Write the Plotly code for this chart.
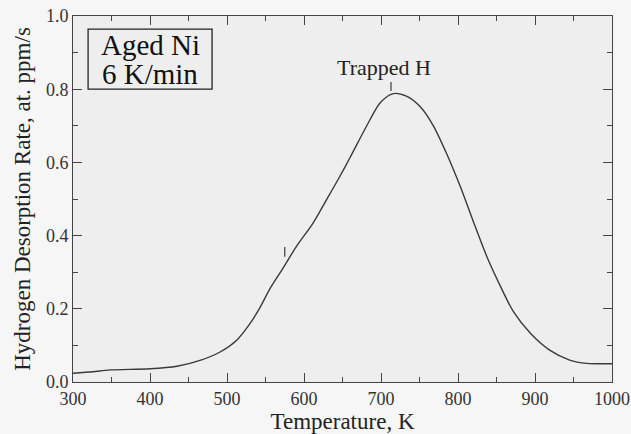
import plotly.graph_objects as go

temperature = [300, 326, 348, 400, 435, 465, 491, 513, 530, 543, 556, 573, 590, 612, 629, 645, 660,
               681, 699, 716, 733, 751, 768, 785, 803, 820, 837, 855, 872, 894, 919, 945, 967, 1000]
rate = [0.024, 0.028, 0.033, 0.036, 0.043, 0.059, 0.082, 0.115, 0.160, 0.204, 0.256, 0.312, 0.370, 0.435, 0.497, 0.556, 0.614,
        0.698, 0.763, 0.788, 0.781, 0.752, 0.700, 0.625, 0.534, 0.438, 0.345, 0.262, 0.192, 0.133, 0.087, 0.060, 0.051, 0.050]

peak_T = [575, 713]
peak_y0 = [0.342, 0.795]
peak_y1 = [0.369, 0.820]
peak_label = "Trapped H"
box_lines = ["Aged Ni", "6 K/min"]

fig = go.Figure()
fig.add_trace(go.Scatter(x=temperature, y=rate, mode="lines",
                         line=dict(color="#3a3a3a", width=1.4, shape="spline", smoothing=0.8),
                         showlegend=False))
for t, a, b in zip(peak_T, peak_y0, peak_y1):
    fig.add_trace(go.Scatter(x=[t, t], y=[a, b], mode="lines",
                             line=dict(color="#3a3a3a", width=1.2), showlegend=False))

fig.add_annotation(x=peak_T[1] - 9, y=0.858, text=peak_label, showarrow=False,
                   yanchor="middle", font=dict(family="Liberation Serif", size=22, color="#222"))

# labelled box
fig.add_shape(type="rect", xref="paper", yref="paper", x0=0.028, x1=0.258, y0=0.80, y1=0.964,
              line=dict(color="#222", width=1.3))
for line_text, yy in zip(box_lines, [0.921, 0.842]):
    fig.add_annotation(xref="paper", yref="paper", x=0.143, y=yy, xanchor="center", yanchor="middle",
                       text=line_text, showarrow=False,
                       font=dict(family="Liberation Serif", size=29, color="#111"))

axis_common = dict(showline=True, linecolor="#444", linewidth=1, mirror="ticks",
                   ticks="inside", ticklen=9, tickcolor="#444", tickwidth=1,
                   showgrid=False, zeroline=False, automargin=False,
                   ticklabeloverflow="allow",
                   tickfont=dict(family="Liberation Serif", size=18, color="#333"),
                   title_font=dict(family="Liberation Serif", size=23, color="#222"))

fig.update_xaxes(range=[300, 1000], dtick=100, title_text="Temperature, K", title_standoff=2,
                 minor=dict(ticks="inside", ticklen=5, dtick=50, tickcolor="#444"), **axis_common)
fig.update_yaxes(range=[0, 1.0], dtick=0.2, tickformat=".1f", title_text="Hydrogen Desorption Rate, at. ppm/s",
                 title_standoff=8,
                 minor=dict(ticks="inside", ticklen=5, dtick=0.1, tickcolor="#444"), **axis_common)

fig.update_layout(width=631, height=434, margin=dict(l=73, r=19, t=16, b=52),
                  paper_bgcolor="#f6f6f6", plot_bgcolor="#eeeeee")
fig.write_html("out.html", config={"displayModeBar": False},
               post_script="document.body.style.margin='0';document.body.style.padding='0';")
